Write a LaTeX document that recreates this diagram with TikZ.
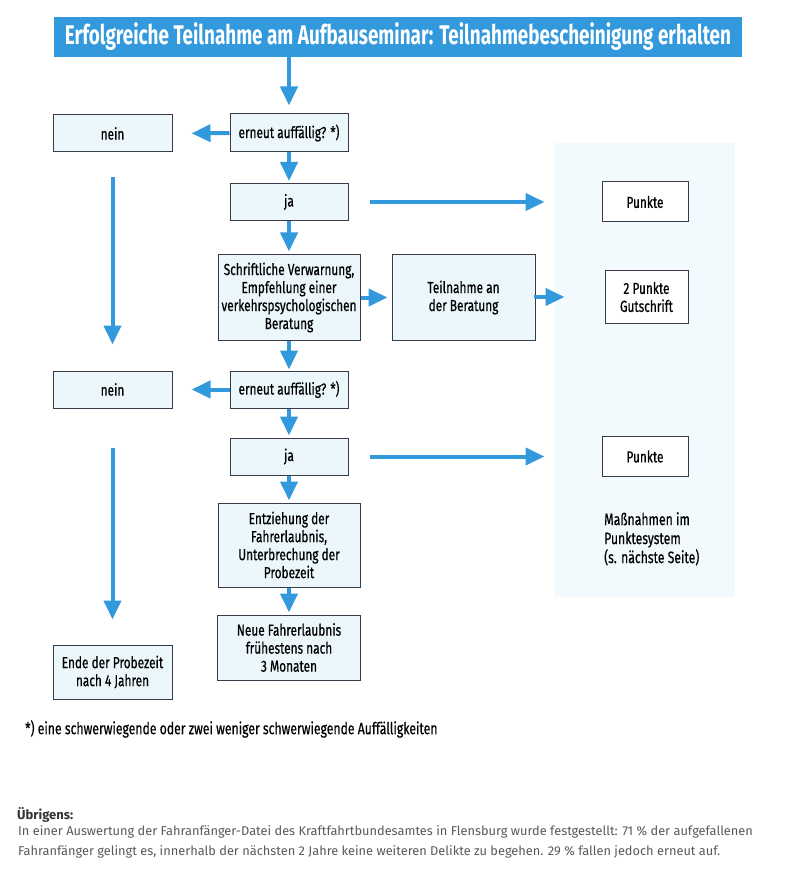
\documentclass[tikz,border=0pt]{standalone}
\usepackage{fontspec}
\setmainfont{Fira Sans}[FakeStretch=0.74, FakeBold=0.5]
\newfontfamily\titlefont{Fira Sans}[FakeStretch=0.70]
\newfontfamily\notefont{Fira Sans}
\usetikzlibrary{arrows.meta}
\definecolor{flowblue}{HTML}{3399DD}
\definecolor{boxfill}{HTML}{EBF7FB}
\definecolor{boxline}{HTML}{3A3A4A}
\definecolor{panelfill}{HTML}{F2FAFD}
\begin{document}
\begin{tikzpicture}[x=1pt, y=-1pt,
    box/.style={draw=boxline, fill=boxfill, line width=1pt, align=center, inner sep=1pt,
      font=\fontsize{16}{18}\selectfont},
    pbox/.style={box, fill=white},
    flow/.style={draw=flowblue, line width=4pt, -{Triangle[length=19pt, width=17pt]}}]
  \useasboundingbox (0,0) rectangle (795,882);
  \fill[panelfill] (555,143) rectangle (735,597);

  \node[fill=flowblue, text=white, minimum width=688pt, minimum height=40pt,
    font=\fontsize{27}{30}\titlefont\bfseries] (title) at (398,37)
    {Erfolgreiche Teilnahme am Aufbauseminar: Teilnahmebescheinigung erhalten};

  \node[box, minimum width=118pt, minimum height=38pt] (q1) at (289,133) {erneut auffällig? *)};
  \node[box, minimum width=119pt, minimum height=37pt] (n1) at (112.5,133.5) {nein};
  \node[box, minimum width=118pt, minimum height=37pt] (j1) at (289,202) {ja};
  \node[pbox, minimum width=86pt, minimum height=40pt] (p1) at (645,202) {Punkte};
  \node[box, minimum width=142pt, minimum height=85pt] (warn) at (289,297.5)
    {Schriftliche Verwarnung,\\Empfehlung einer\\verkehrspsychologischen\\Beratung};
  \node[box, minimum width=143pt, minimum height=85pt] (teil) at (463.5,297.5)
    {Teilnahme an\\der Beratung};
  \node[pbox, minimum width=83pt, minimum height=52pt] (p2) at (646.5,297)
    {2 Punkte\\Gutschrift};
  \node[box, minimum width=118pt, minimum height=37pt] (q2) at (289,389.5) {erneut auffällig? *)};
  \node[box, minimum width=119pt, minimum height=37pt] (n2) at (112.5,389.5) {nein};
  \node[box, minimum width=118pt, minimum height=37pt] (j2) at (289,456.5) {ja};
  \node[pbox, minimum width=86pt, minimum height=40pt] (p3) at (645,456.5) {Punkte};
  \node[align=left, anchor=north west, inner sep=0pt, font=\fontsize{16.5}{19}\selectfont]
    (mass) at (604,512) {Maßnahmen im\\Punktesystem\\(s. nächste Seite)};
  \node[box, minimum width=142pt, minimum height=84pt] (entz) at (289,545)
    {Entziehung der\\Fahrerlaubnis,\\Unterbrechung der\\Probezeit};
  \node[box, minimum width=143pt, minimum height=65pt] (neu) at (289,647.5)
    {Neue Fahrerlaubnis\\frühestens nach\\3 Monaten};
  \node[box, minimum width=119pt, minimum height=54pt] (ende) at (112.5,672)
    {Ende der Probezeit\\nach 4 Jahren};

  \draw[flow, shorten >=8pt] (title.south -| q1.north) -- (q1.north);
  \draw[flow, shorten >=19pt] (q1.west) -- (n1.east);
  \draw[flow, shorten >=2pt] (q1) -- (j1);
  \draw[flow, shorten <=21pt, shorten >=57pt] (j1.east) -- (p1.west);
  \draw[flow, shorten >=3pt] (j1) -- (warn);
  \draw[flow, shorten >=4pt] (warn.east) -- (teil.west);
  \draw[flow, shorten >=40pt] (teil.east) -- (p2.west -| teil.east) -- (p2.west);
  \draw[flow, shorten <=25pt, shorten >=26pt] (n1) -- (n2);
  \draw[flow, shorten >=1pt] (warn) -- (q2);
  \draw[flow, shorten >=19pt] (q2.west) -- (n2.east);
  \draw[flow, shorten >=2pt] (q2) -- (j2);
  \draw[flow, shorten <=21pt, shorten >=57pt] (j2.east) -- (p3.west);
  \draw[flow, shorten >=2pt] (j2) -- (entz);
  \draw[flow, shorten >=2pt] (entz) -- (neu);
  \draw[flow, shorten <=39pt, shorten >=25pt] (n2) -- (ende);

  \node[anchor=west, inner sep=0pt, font=\fontsize{16.5}{19}\selectfont] (star) at (25,729)
    {*) eine schwerwiegende oder zwei weniger schwerwiegende Auffälligkeiten};
  \node[anchor=west, inner sep=0pt, font=\fontsize{13}{15}\notefont\bfseries, text=black!80] (ueb) at (17,815)
    {Übrigens:};
  \node[anchor=north west, align=left, inner sep=0pt, font=\fontsize{12.8}{20}\notefont, text=black!65]
    (para) at (18,825)
    {In einer Auswertung der Fahranfänger-Datei des Kraftfahrtbundesamtes in Flensburg wurde festgestellt: 71 \% der aufgefallenen\\
     Fahranfänger gelingt es, innerhalb der nächsten 2 Jahre keine weiteren Delikte zu begehen. 29 \% fallen jedoch erneut auf.};
\end{tikzpicture}
\end{document}
